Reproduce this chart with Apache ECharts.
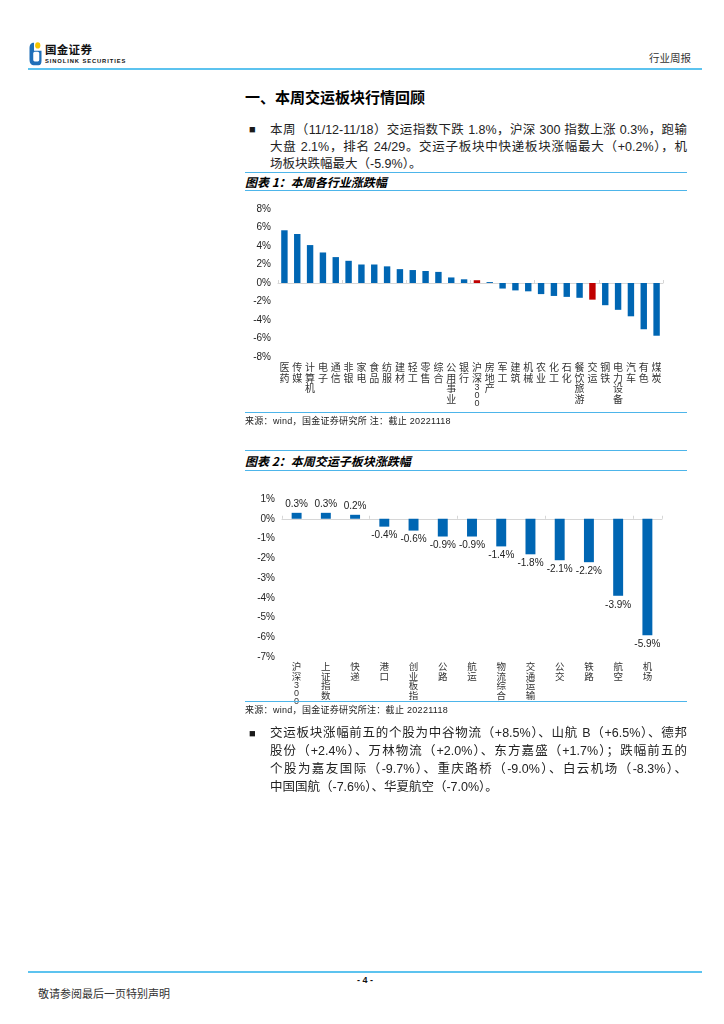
<!DOCTYPE html>
<html>
<head>
<meta charset="utf-8">
<script src="https://cdn.jsdelivr.net/npm/echarts@6/dist/echarts.min.js"></script>
<style>
html,body{margin:0;padding:0;background:#fff;}
body{width:724px;height:1024px;position:relative;overflow:hidden;font-family:"Liberation Sans","Noto Sans CJK SC",sans-serif;color:#1a1a1a;}
.a{position:absolute;white-space:nowrap;}
.hl{position:absolute;height:0;}
.line{position:absolute;font-size:12.5px;line-height:16px;height:16px;color:#222;}
.just{text-align:justify;text-align-last:justify;}
</style>
</head>
<body>
<script>
// ---------- data ----------
const industryCats = ['医药','传媒','计算机','电子','通信','非银','家电','食品','纺服','建材','轻工','零售','综合','公用事业','银行','沪深300','房地产','军工','建筑','机械','农业','化工','石化','餐饮旅游','交运','钢铁','电力设备','汽车','有色','煤炭'];
const industryVals = [5.7,5.3,4.1,3.3,2.8,2.4,2.0,2.0,1.8,1.5,1.4,1.3,1.2,0.6,0.4,0.3,0.1,-0.6,-0.8,-0.9,-1.2,-1.4,-1.5,-1.6,-1.8,-2.4,-2.9,-3.6,-5.0,-5.7];
const industryHighlight = ['沪深300','交运'];
const industryTicks = [-8,-6,-4,-2,0,2,4,6,8];

const subCats = ['沪深300','上证指数','快递','港口','创业板指','公路','航运','物流综合','交通运输','公交','铁路','航空','机场'];
const subVals = [0.3,0.3,0.2,-0.4,-0.6,-0.9,-0.9,-1.4,-1.8,-2.1,-2.2,-3.9,-5.9];
const subTicks = [-7,-6,-5,-4,-3,-2,-1,0,1];
</script>

<!-- header -->
<svg class="a" style="left:28px;top:40px;" width="15" height="27" viewBox="0 0 20 30" preserveAspectRatio="none">
  <path d="M8 3 C3 3 2 6 2 10 L2 21 C2 26 4 28 9 28 L14 28 C17 28 18 26 18 23 L18 12 L8 12 Z" fill="#1f6fb8"/>
  <rect x="7" y="13" width="8" height="11" rx="2" fill="#fff"/>
  <circle cx="13" cy="6" r="3.5" fill="#f5c400"/>
</svg>
<div class="a" style="left:45px;top:41px;font-size:11.5px;font-weight:bold;line-height:16px;font-family:'Noto Sans CJK SC';color:#111;letter-spacing:0.3px;">国金证券</div>
<div class="a" style="left:45px;top:57px;font-size:5.8px;font-weight:bold;line-height:8px;color:#111;letter-spacing:0.9px;">SINOLINK SECURITIES</div>
<div class="a" style="left:649px;top:51px;font-size:10.5px;line-height:14px;font-family:'Noto Sans CJK SC';color:#333;">行业周报</div>
<div class="hl" style="left:28px;top:68px;width:674px;border-top:2px solid #5cc3ef;"></div>

<!-- section heading -->
<div class="a" style="left:245px;top:88px;font-size:15px;font-weight:bold;line-height:18px;font-family:'Noto Sans CJK SC';color:#000;">一、本周交运板块行情回顾</div>

<!-- paragraph 1 -->
<div class="a" style="left:249px;top:121px;font-size:11px;line-height:17px;">■</div>
<div class="line just" style="left:270px;top:122px;width:417px;">本周（11/12-11/18）交运指数下跌 1.8%，沪深 300 指数上涨 0.3%，跑输</div>
<div class="line just" style="left:270px;top:139px;width:417px;">大盘 2.1%，排名 24/29。交运子板块中快递板块涨幅最大（+0.2%），机</div>
<div class="line" style="left:270px;top:156px;">场板块跌幅最大（-5.9%）。</div>

<!-- chart 1 -->
<div id="c1" class="a" style="left:240px;top:195px;width:460px;height:225px;"></div>
<div class="hl" style="left:245px;top:172px;width:442px;border-top:1.5px solid #4db5ea;"></div>
<div class="a" style="left:245px;top:174px;font-size:12px;font-weight:bold;font-style:italic;line-height:15px;font-family:'Noto Sans CJK SC';color:#000;">图表 1：本周各行业涨跌幅</div>
<div class="hl" style="left:245px;top:190px;width:442px;border-top:1px solid #4db5ea;"></div>
<div class="hl" style="left:245px;top:412px;width:442px;border-top:1.5px solid #4db5ea;"></div>
<div class="a" style="left:245px;top:416px;font-size:9px;letter-spacing:0.3px;line-height:11px;color:#222;">来源：wind，国金证券研究所 注：截止 20221118</div>

<!-- chart 2 -->
<div id="c2" class="a" style="left:240px;top:485px;width:460px;height:225px;"></div>
<div class="hl" style="left:245px;top:450px;width:442px;border-top:1.5px solid #4db5ea;"></div>
<div class="a" style="left:245px;top:453px;font-size:12px;font-weight:bold;font-style:italic;line-height:15px;font-family:'Noto Sans CJK SC';color:#000;">图表 2：本周交运子板块涨跌幅</div>
<div class="hl" style="left:245px;top:470px;width:442px;border-top:1px solid #4db5ea;"></div>
<div class="hl" style="left:245px;top:701px;width:442px;border-top:1.5px solid #4db5ea;"></div>
<div class="a" style="left:245px;top:705px;font-size:9px;letter-spacing:0.3px;line-height:11px;color:#222;">来源：wind，国金证券研究所注：截止 20221118</div>

<!-- paragraph 2 -->
<div class="a" style="left:249px;top:724px;font-size:11px;line-height:18px;">■</div>
<div class="line just" style="left:270px;top:725px;width:417px;">交运板块涨幅前五的个股为中谷物流（+8.5%）、山航 B（+6.5%）、德邦</div>
<div class="line just" style="left:270px;top:743px;width:417px;">股份（+2.4%）、万林物流（+2.0%）、东方嘉盛（+1.7%）；跌幅前五的</div>
<div class="line just" style="left:270px;top:761px;width:417px;">个股为嘉友国际（-9.7%）、重庆路桥（-9.0%）、白云机场（-8.3%）、</div>
<div class="line" style="left:270px;top:779px;">中国国航（-7.6%）、华夏航空（-7.0%）。</div>

<!-- footer -->
<div class="hl" style="left:28px;top:971px;width:674px;border-top:2px solid #5cc3ef;"></div>
<div class="a" style="left:352px;top:974px;width:26px;text-align:center;font-size:9px;font-weight:bold;line-height:12px;color:#111;">- 4 -</div>
<div class="a" style="left:38px;top:986px;font-size:11px;line-height:14px;font-family:'Noto Sans CJK SC';color:#333;">敬请参阅最后一页特别声明</div>

<script>
const FONT = '"Liberation Sans","Noto Sans CJK SC",sans-serif';
function stack(s){ return s.split('').map(ch => /\d/.test(ch) ? '{d|'+ch+'}' : ch).join('\n'); }
const digitRich = {d:{lineHeight:8,fontSize:9,color:'#333',fontFamily:FONT}};

// chart 1
const ch1 = echarts.init(document.getElementById('c1'), null, {renderer:'canvas'});
ch1.setOption({
  animation:false,
  grid:{left:38,right:37,top:14,bottom:63,containLabel:false,outerBoundsMode:'none'},
  xAxis:[
    {type:'category',data:industryCats,position:'top',
     axisLine:{onZero:true,lineStyle:{color:'#d6d6d6',width:1}},
     axisTick:{show:true,length:3,lineStyle:{color:'#d6d6d6'}},
     axisLabel:{show:false}},
    {type:'category',data:industryCats,position:'bottom',
     axisLine:{show:false,onZero:false},axisTick:{show:false},
     axisLabel:{interval:0,margin:6,fontSize:10,lineHeight:10.5,color:'#333',fontFamily:FONT,verticalAlign:'top',formatter:stack,rich:digitRich}}
  ],
  yAxis:{type:'value',min:industryTicks[0],max:industryTicks[industryTicks.length-1],interval:2,
    axisLine:{show:false},axisTick:{show:false},splitLine:{show:false},
    axisLabel:{formatter:v=>v+'%',fontSize:10,color:'#222',fontFamily:FONT,margin:7}},
  series:[{type:'bar',xAxisIndex:0,barWidth:'50%',
    data:industryVals.map((v,i)=>({value:v,itemStyle:{color:industryHighlight.includes(industryCats[i])?'#c00000':'#0066b3'}}))}]
});

// chart 2
const ch2 = echarts.init(document.getElementById('c2'), null, {renderer:'canvas'});
ch2.setOption({
  animation:false,
  grid:{left:42,right:38,top:14,bottom:53,containLabel:false,outerBoundsMode:'none'},
  xAxis:[
    {type:'category',data:subCats,position:'top',
     axisLine:{onZero:true,lineStyle:{color:'#d6d6d6',width:1}},
     axisTick:{show:true,length:3,lineStyle:{color:'#d6d6d6'}},
     axisLabel:{show:false}},
    {type:'category',data:subCats,position:'bottom',
     axisLine:{show:false,onZero:false},axisTick:{show:false},
     axisLabel:{interval:0,margin:6,fontSize:9.5,lineHeight:9.5,color:'#333',fontFamily:FONT,verticalAlign:'top',formatter:stack,rich:digitRich}}
  ],
  yAxis:{type:'value',min:subTicks[0],max:subTicks[subTicks.length-1],interval:1,
    axisLine:{show:false},axisTick:{show:false},splitLine:{show:false},
    axisLabel:{formatter:v=>v+'%',fontSize:10,color:'#222',fontFamily:FONT,margin:7}},
  series:[{type:'bar',xAxisIndex:0,barWidth:'34%',itemStyle:{color:'#0066b3'},
    data:subVals.map(v=>({value:v,label:{show:true,position:v>=0?'top':'bottom',distance:4,
      formatter:p=>p.value.toFixed(1)+'%',fontSize:10,color:'#222',fontFamily:FONT}}))}]
});
</script>
</body>
</html>
